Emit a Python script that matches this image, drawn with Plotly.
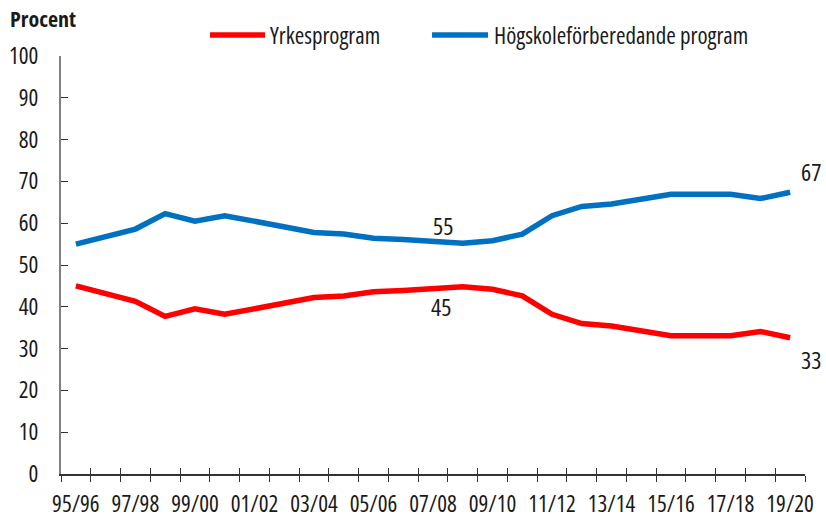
import plotly.graph_objects as go

categories = ["95/96", "96/97", "97/98", "98/99", "99/00", "00/01", "01/02", "02/03",
              "03/04", "04/05", "05/06", "06/07", "07/08", "08/09", "09/10", "10/11",
              "11/12", "12/13", "13/14", "14/15", "15/16", "16/17", "17/18", "18/19", "19/20"]
yrkes = [45.0, 43.2, 41.3, 37.7, 39.5, 38.2, 39.5, 40.8, 42.2, 42.6, 43.6, 43.9, 44.5,
         44.8, 44.2, 42.6, 38.2, 36.0, 35.4, 34.1, 33.1, 33.1, 33.1, 34.1, 32.6]
hogskole = [55.0, 56.8, 58.6, 62.3, 60.5, 61.8, 60.5, 59.2, 57.8, 57.4, 56.4, 56.1, 55.5,
            55.2, 55.8, 57.4, 61.8, 64.0, 64.6, 65.9, 66.9, 66.9, 66.9, 65.9, 67.4]
series_names = ["Yrkesprogram", "Högskoleförberedande program"]
y_ticks = [0, 10, 20, 30, 40, 50, 60, 70, 80, 90, 100]

RED = "#FF0000"
BLUE = "#0070C0"
FONT = "Open Sans"
TXT = "#1a1a1a"


def cond(s, bold=False):
    w = "font-weight:bold;" if bold else ""
    return f'<span style="font-stretch:75%;{w}">{s}</span>'


n = len(categories)
xs = list(range(n))
label_idx = xs[::2]
boundaries = [i - 0.5 for i in range(n + 1)]

fig = go.Figure()
fig.add_trace(go.Scatter(x=xs, y=yrkes, mode="lines", name=series_names[0],
                         line=dict(color=RED, width=5.5), showlegend=False))
fig.add_trace(go.Scatter(x=xs, y=hogskole, mode="lines", name=series_names[1],
                         line=dict(color=BLUE, width=5.5), showlegend=False))
# invisible trace so the overlay axis (inner tick marks) is drawn
fig.add_trace(go.Scatter(x=[xs[0]], y=[hogskole[0]], mode="markers", xaxis="x2",
                         marker=dict(opacity=0), showlegend=False, hoverinfo="skip"))

fig.update_layout(
    width=826, height=518,
    margin=dict(l=61, r=21, t=56, b=44),
    paper_bgcolor="white", plot_bgcolor="white",
    font=dict(family=FONT, size=23, color=TXT),
    xaxis=dict(
        automargin=False,
        range=[-0.5, n - 0.5], tickmode="array",
        tickvals=label_idx, ticktext=[cond(categories[i]) for i in label_idx],
        ticks="", showgrid=False, zeroline=False, ticklabelstandoff=9,
        showline=True, linecolor="#333333", linewidth=1.5,
        minor=dict(tickmode="array", tickvals=boundaries, ticks="outside",
                   ticklen=6, tickcolor="#333333", tickwidth=1.2, showgrid=False),
    ),
    xaxis2=dict(
        overlaying="x", matches="x", side="bottom", automargin=False,
        tickmode="array", tickvals=boundaries, ticks="inside", ticklen=6,
        tickcolor="#333333", tickwidth=1.2, showticklabels=False,
        showgrid=False, zeroline=False, showline=False,
    ),
    yaxis=dict(
        automargin=False,
        range=[0, 100], tickmode="array", tickvals=y_ticks,
        ticktext=[cond(str(v)) for v in y_ticks],
        ticks="inside", ticklen=7, tickcolor="#333333", tickwidth=1.2,
        showline=True, linecolor="#808080", linewidth=2,
        showgrid=False, zeroline=False, ticklabelstandoff=16,
    ),
    showlegend=False,
)

# value labels
lab_font = dict(size=24)
fig.add_annotation(x=12, y=hogskole[12], text=cond("55"), showarrow=False, xshift=10, yshift=17,
                   font=lab_font)
fig.add_annotation(x=12, y=yrkes[12], text=cond("45"), showarrow=False, xshift=8, yshift=-19,
                   font=lab_font)
fig.add_annotation(x=n - 1, y=hogskole[-1], text=cond("67"), showarrow=False, xshift=21, yshift=21,
                   font=lab_font)
fig.add_annotation(x=n - 1, y=yrkes[-1], text=cond("33"), showarrow=False, xshift=21, yshift=-22,
                   font=lab_font)

# y-axis title
fig.add_annotation(xref="paper", yref="paper", x=-0.0712, y=1.091, xanchor="left",
                   yanchor="middle", text=cond("Procent", bold=True), showarrow=False,
                   font=dict(size=22))

# legend
legend_items = [(series_names[0], RED, 0.2003, 0.2742, 0.278),
                (series_names[1], BLUE, 0.4987, 0.5739, 0.579)]
for name, col, x0, x1, xt in legend_items:
    fig.add_shape(type="line", xref="paper", yref="paper", x0=x0, x1=x1,
                  y0=1.0502, y1=1.0502, line=dict(color=col, width=5.5))
    fig.add_annotation(xref="paper", yref="paper", x=xt, y=1.0502, xanchor="left",
                       yanchor="middle", text=cond(name), showarrow=False, font=dict(size=23))

fig.write_html(
    "out.html",
    config={"displayModeBar": False},
    post_script="document.body.style.margin='0';document.body.style.overflow='hidden';",
)
